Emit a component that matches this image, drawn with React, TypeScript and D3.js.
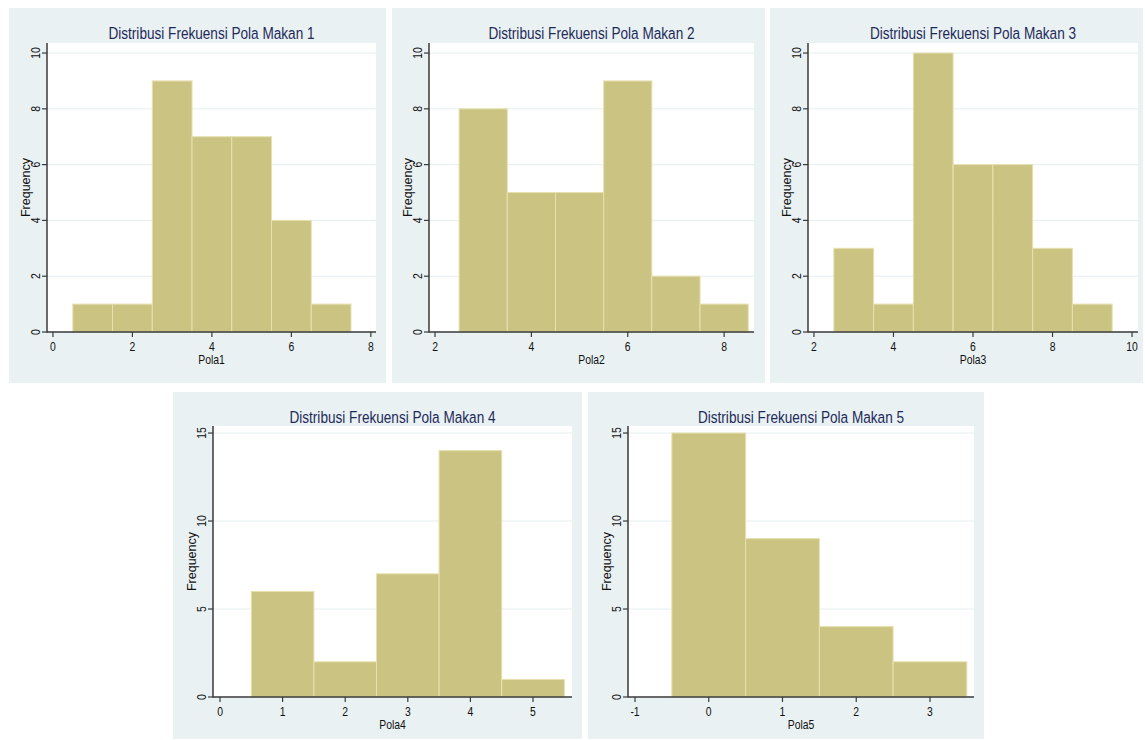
import React from 'react';
import * as d3 from 'd3';

// counts per bin (bin width 1, centred on the integer)
const pola1Centers = [1, 2, 3, 4, 5, 6, 7];
const pola1Counts = [1, 1, 9, 7, 7, 4, 1];
const pola2Centers = [3, 4, 5, 6, 7, 8];
const pola2Counts = [8, 5, 5, 9, 2, 1];
const pola3Centers = [3, 4, 5, 6, 7, 8, 9];
const pola3Counts = [3, 1, 10, 6, 6, 3, 1];
const pola4Centers = [1, 2, 3, 4, 5];
const pola4Counts = [6, 2, 7, 14, 1];
const pola5Centers = [0, 1, 2, 3];
const pola5Counts = [15, 9, 4, 2];

const titles = [
  'Distribusi Frekuensi Pola Makan 1',
  'Distribusi Frekuensi Pola Makan 2',
  'Distribusi Frekuensi Pola Makan 3',
  'Distribusi Frekuensi Pola Makan 4',
  'Distribusi Frekuensi Pola Makan 5',
];
const xLabels = ['Pola1', 'Pola2', 'Pola3', 'Pola4', 'Pola5'];
const xTicks = [
  [0, 2, 4, 6, 8],
  [2, 4, 6, 8],
  [2, 4, 6, 8, 10],
  [0, 1, 2, 3, 4, 5],
  [-1, 0, 1, 2, 3],
];
const yTicksTop = [0, 2, 4, 6, 8, 10];
const yTicksBottom = [0, 5, 10, 15];

const BG = '#EAF1F3';
const BAR = '#CBC382';
const BAR_EDGE = '#E6E0AE';
const NAVY = '#1E2B5A';
const SANS = '"Liberation Sans", Arial, sans-serif';
const SX = 0.8; // squeeze Liberation Sans into an "Arial Narrow" look

// panel layout: background box, plot box, x/y domains
const panels = [
  { bg: [9, 8, 386, 383], plot: [47, 43, 376, 332], xd: [-0.15, 8.13], yd: [0, 10.36], centers: pola1Centers, counts: pola1Counts, yt: yTicksTop },
  { bg: [392, 8, 765, 383], plot: [429, 43, 754, 332], xd: [1.875, 8.62], yd: [0, 10.36], centers: pola2Centers, counts: pola2Counts, yt: yTicksTop },
  { bg: [770, 8, 1143, 383], plot: [808, 43, 1138, 332], xd: [1.85, 10.15], yd: [0, 10.36], centers: pola3Centers, counts: pola3Counts, yt: yTicksTop },
  { bg: [173, 392, 582, 739], plot: [213, 426, 572, 697], xd: [-0.112, 5.623], yd: [0, 15.4], centers: pola4Centers, counts: pola4Counts, yt: yTicksBottom },
  { bg: [588, 392, 984, 739], plot: [628, 426, 974, 697], xd: [-1.095, 3.597], yd: [0, 15.4], centers: pola5Centers, counts: pola5Counts, yt: yTicksBottom },
];

const NText = ({ x, y, rot = 0, size, fill = '#111', children }: any) => (
  <text
    transform={`translate(${x},${y}) rotate(${rot}) scale(${SX},1)`}
    textAnchor="middle"
    fontFamily={SANS}
    fontSize={size}
    fill={fill}
  >
    {children}
  </text>
);

const Panel = ({ p, i }: { p: any; i: number }) => {
  const [bx0, by0, bx1, by1] = p.bg;
  const [px0, py0, px1, py1] = p.plot;
  const x = d3.scaleLinear().domain(p.xd).range([px0, px1]);
  const y = d3.scaleLinear().domain(p.yd).range([py1, py0]);
  const midX = (px0 + px1) / 2;
  const midY = (py0 + py1) / 2;

  return (
    <g>
      <rect x={bx0} y={by0} width={bx1 - bx0} height={by1 - by0} fill={BG} />
      <rect x={px0} y={py0} width={px1 - px0} height={py1 - py0} fill="#fff" />
      {/* gridlines */}
      {p.yt.map((t: number) => (
        <line key={'g' + t} x1={px0} x2={px1} y1={y(t)} y2={y(t)} stroke="#E6EEF0" strokeWidth={1} />
      ))}
      {/* bars */}
      {p.centers.map((c: number, k: number) => (
        <rect
          key={'b' + k}
          x={x(c - 0.5)}
          y={y(p.counts[k])}
          width={x(c + 0.5) - x(c - 0.5)}
          height={y(0) - y(p.counts[k])}
          fill={BAR}
          stroke={BAR_EDGE}
          strokeWidth={1}
        />
      ))}
      {/* axes */}
      <line x1={px0} x2={px0} y1={py0} y2={py1 + 0.5} stroke="#3a3a3a" strokeWidth={1.5} />
      <line x1={px0} x2={px1} y1={py1} y2={py1} stroke="#3a3a3a" strokeWidth={1.5} />
      {p.yt.map((t: number) => (
        <g key={'yt' + t}>
          <line x1={px0 - 5} x2={px0} y1={y(t)} y2={y(t)} stroke="#3a3a3a" strokeWidth={1.2} />
          <NText x={px0 - 7} y={y(t)} rot={-90} size={13}>
            {t}
          </NText>
        </g>
      ))}
      {xTicks[i].map((t: number) => (
        <g key={'xt' + t}>
          <line x1={x(t)} x2={x(t)} y1={py1} y2={py1 + 5} stroke="#3a3a3a" strokeWidth={1.2} />
          <NText x={x(t)} y={py1 + 19} size={13}>
            {t}
          </NText>
        </g>
      ))}
      <text
        transform={`translate(${px0 - 17},${midY}) rotate(-90)`}
        textAnchor="middle"
        fontFamily={SANS}
        fontSize={12.5}
        fill="#111"
      >
        Frequency
      </text>
      <NText x={midX} y={py1 + 32} size={13}>
        {xLabels[i]}
      </NText>
      <NText x={midX} y={by0 + 31} size={17} fill={NAVY}>
        {titles[i]}
      </NText>
    </g>
  );
};

export default function App() {
  return (
    <svg
      width={1145}
      height={740}
      style={{ position: 'absolute', left: 0, top: 0, background: '#fff' }}
    >
      {panels.map((p, i) => (
        <Panel key={i} p={p} i={i} />
      ))}
    </svg>
  );
}
